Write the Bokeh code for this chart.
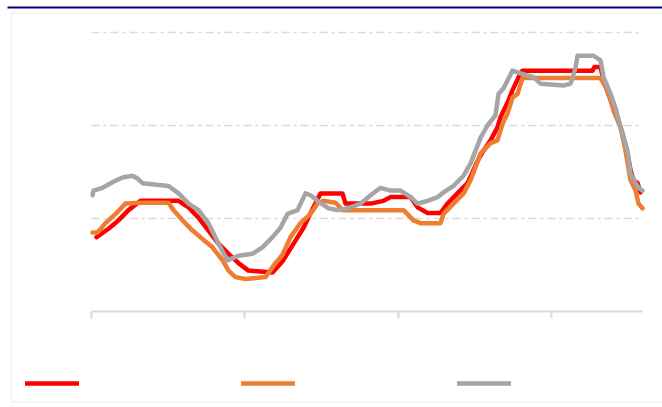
from bokeh.plotting import figure
from bokeh.models import (Range1d, FixedTicker, CustomJSTickFormatter, Legend, LegendItem,
                          BoxAnnotation)
from bokeh.embed import file_html
from bokeh.resources import INLINE

# ---- data (x: time units, y: rate) ----
red_x = [0.33, 1.11, 1.76, 2.41, 3.20, 5.68, 6.33, 6.98, 7.63, 8.28, 8.94, 9.59, 10.24, 11.81, 12.46,
         13.18, 13.83, 14.48, 14.94, 16.37, 16.57, 18.20, 19.05, 19.50, 20.81, 21.27, 21.92, 22.77,
         23.22, 23.87, 24.53, 25.18, 25.57, 26.03, 26.48, 26.68, 26.88, 27.20, 27.46, 27.66, 27.98,
         28.11, 32.68, 32.81, 33.20, 33.40, 33.72, 34.05, 34.38, 34.64, 34.96, 35.16, 35.36, 35.62, 35.81]
red_y = [0.80, 0.89, 0.98, 1.09, 1.19, 1.19, 1.12, 1.01, 0.87, 0.73, 0.62, 0.52, 0.44, 0.42, 0.54,
         0.73, 0.90, 1.12, 1.27, 1.27, 1.16, 1.16, 1.19, 1.23, 1.23, 1.12, 1.06, 1.06,
         1.16, 1.27, 1.38, 1.62, 1.73, 1.84, 1.98, 2.09, 2.16, 2.27, 2.38, 2.45, 2.56,
         2.59, 2.59, 2.63, 2.63, 2.48, 2.34, 2.19, 2.05, 1.91, 1.70, 1.52, 1.41, 1.38, 1.28]

orange_x = [0.07, 0.39, 0.91, 1.57, 2.22, 3.33, 5.02, 5.35, 5.94, 6.59, 7.24, 7.89, 8.55, 8.94, 9.39,
            10.05, 11.35, 12.00, 12.46, 12.98, 13.63, 14.29, 14.74, 15.13, 15.92, 16.37, 18.66, 20.35,
            21.00, 21.46, 22.77, 22.96, 23.61, 24.27, 24.72, 25.38, 26.03, 26.48, 26.81, 27.14, 27.46,
            27.79, 28.11, 33.20, 33.66, 34.05, 34.51, 34.83, 35.16, 35.49, 35.68, 35.94]
orange_y = [0.85, 0.85, 0.95, 1.05, 1.16, 1.17, 1.17, 1.09, 0.98, 0.87, 0.78, 0.69, 0.55, 0.44, 0.37,
            0.35, 0.37, 0.52, 0.61, 0.80, 0.95, 1.05, 1.16, 1.19, 1.17, 1.09, 1.09, 1.09,
            0.98, 0.95, 0.95, 1.05, 1.16, 1.27, 1.41, 1.70, 1.81, 1.84, 2.02, 2.13, 2.30,
            2.34, 2.51, 2.51, 2.38, 2.16, 1.98, 1.73, 1.41, 1.30, 1.16, 1.11]

gray_x = [0.07, 0.13, 0.72, 1.37, 2.02, 2.67, 3.00, 3.33, 5.02, 5.68, 6.33, 6.98, 7.63, 8.28, 8.87,
          9.59, 10.50, 11.15, 11.81, 12.33, 12.79, 13.44, 13.96, 14.29, 14.74, 15.46, 16.05, 16.70,
          17.55, 18.20, 18.85, 19.50, 20.16, 20.81, 21.27, 21.92, 22.57, 22.96, 23.61, 24.27, 24.72,
          25.38, 25.83, 26.35, 26.55, 26.88, 27.46, 27.98, 28.83, 29.29, 30.79, 31.25, 31.57, 31.70,
          32.75, 33.20, 33.40, 33.86, 34.18, 34.51, 34.96, 35.16, 35.49, 35.68, 35.94]
gray_y = [1.25, 1.30, 1.33, 1.39, 1.44, 1.46, 1.43, 1.38, 1.35, 1.27, 1.16, 1.09, 0.95, 0.73, 0.55,
          0.60, 0.62, 0.69, 0.80, 0.90, 1.05, 1.09, 1.27, 1.25, 1.19, 1.11, 1.09, 1.11,
          1.16, 1.25, 1.33, 1.30, 1.30, 1.23, 1.16, 1.19, 1.23, 1.28, 1.35, 1.46, 1.59,
          1.87, 2.00, 2.11, 2.34, 2.40, 2.59, 2.56, 2.52, 2.45, 2.43, 2.45, 2.62, 2.75,
          2.75, 2.70, 2.52, 2.34, 2.19, 1.98, 1.73, 1.48, 1.38, 1.33, 1.30]

x_ticks = [0, 10, 20, 30]
y_grid = [1, 2, 3]
x_min, x_max = 0, 35.94

RED = "#FF0000"
ORANGE = "#ED7D31"
GRAY = "#A5A5A5"
GRID = "#D9D9D9"
NAVY = "#000080"

W, H = 662, 407
# frame covers the whole canvas; pixel <-> data mapping
FX0, FX1 = 91, 642      # canvas px of x_min / x_max
FY0, FY3 = 311, 32      # canvas px (from top) of y=0 / y=3
sx = (FX1 - FX0) / (x_max - x_min)
sy = (FY0 - FY3) / 3.0

def xv(c):
    return x_min + (c - FX0) / sx

def yv(c):
    return (FY0 - c) / sy

p = figure(width=W, height=H, output_backend="svg", toolbar_location=None,
           x_range=Range1d(xv(0), xv(W)), y_range=Range1d(yv(H), yv(0)),
           min_border=0, min_border_left=0, min_border_right=0,
           min_border_top=0, min_border_bottom=0, y_axis_location=None)
p.outline_line_color = None
p.background_fill_color = "white"
p.border_fill_color = "white"

# decorations: navy rule and grey chart-area border
p.add_layout(BoxAnnotation(left=xv(7), right=xv(W + 20), top=yv(6), bottom=yv(8),
                           fill_color=NAVY, fill_alpha=1, line_color=None))
p.add_layout(BoxAnnotation(left=xv(11), right=xv(W + 20), top=yv(12.5), bottom=yv(401.5),
                           fill_alpha=0, line_color=GRID, line_width=2))

# horizontal dash-dot gridlines across the plotted x extent
p.xgrid.visible = False
p.ygrid.visible = False
p.segment(x0=[x_min] * len(y_grid), x1=[x_max] * len(y_grid), y0=y_grid, y1=y_grid,
          line_color=GRID, line_width=1.5, line_dash="8 4 3 4")

ax = p.xaxis[0]
ax.fixed_location = 0
ax.bounds = (x_min, x_max)
ax.ticker = FixedTicker(ticks=x_ticks)
ax.formatter = CustomJSTickFormatter(code="return ''")
ax.axis_line_color = GRID
ax.axis_line_width = 2
ax.major_tick_line_color = GRID
ax.major_tick_line_width = 2
ax.major_tick_out = 7
ax.major_tick_in = 0
ax.minor_tick_line_color = None

r1 = p.line(red_x, red_y, line_color=RED, line_width=4.5, line_join="round", line_cap="round")
r2 = p.line(orange_x, orange_y, line_color=ORANGE, line_width=4.5, line_join="round", line_cap="round")
r3 = p.line(gray_x, gray_y, line_color=GRAY, line_width=4.5, line_join="round", line_cap="round")

legend = Legend(items=[LegendItem(label=" ", renderers=[r1]),
                       LegendItem(label=" ", renderers=[r2]),
                       LegendItem(label=" ", renderers=[r3])],
                orientation="horizontal", location=(25, H - 388),
                glyph_width=54, glyph_height=10, label_height=10, label_width=100,
                label_standoff=0, spacing=62, padding=0, margin=0,
                label_text_font_size="8px", border_line_color=None,
                background_fill_alpha=0)
p.add_layout(legend, "center")

open("out.html", "w").write(file_html(p, INLINE))
